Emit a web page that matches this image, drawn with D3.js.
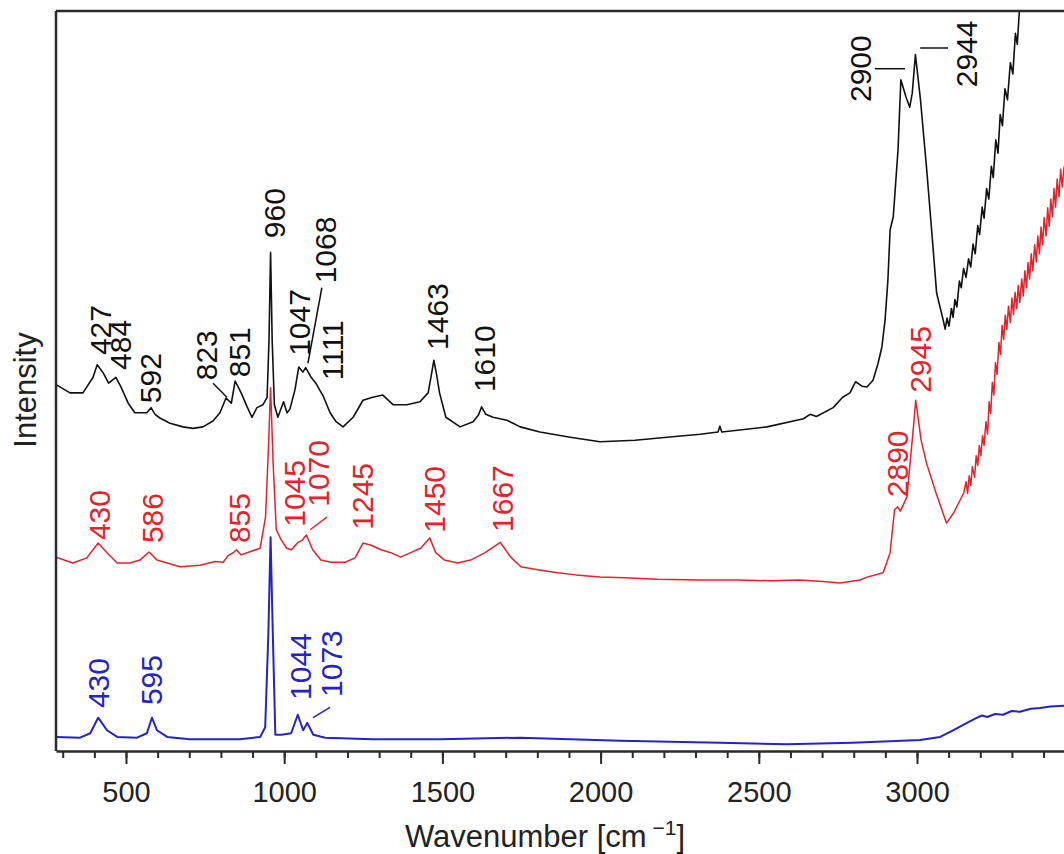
<!DOCTYPE html>
<html>
<head>
<meta charset="utf-8">
<script src="https://cdn.jsdelivr.net/npm/d3@7/dist/d3.min.js"></script>
<style>
  body { margin: 0; background: #fff; }
  svg { display: block; font-family: "Liberation Sans", Arial, sans-serif; }
</style>
</head>
<body>
<div id="chart"></div>
<script>
const blackWn = [279, 291, 323, 364, 396, 409, 428, 445, 468, 484, 507, 528, 551, 566, 579, 592, 607, 639, 680, 712,
  743, 775, 797, 816, 833, 845, 864, 883, 898, 914, 933, 946, 952, 957, 962, 969, 980, 998, 1009, 1018,
  1034, 1046, 1059, 1068, 1085, 1100, 1112, 1123, 1145, 1164, 1186, 1218, 1249, 1280, 1312, 1344, 1388, 1429, 1455, 1465,
  1473, 1482, 1491, 1511, 1556, 1597, 1614, 1624, 1637, 1660, 1704, 1746, 1808, 1904, 1998, 2109, 2210, 2315, 2371, 2377,
  2383, 2526, 2641, 2662, 2682, 2735, 2765, 2788, 2806, 2826, 2842, 2861, 2877, 2889, 2899, 2908, 2915, 2925, 2940, 2949,
  2965, 2977, 2985, 2995, 3011, 3030, 3047, 3062, 3083, 3089, 3095, 3101, 3109, 3114, 3120, 3126, 3134, 3140, 3147, 3155,
  3163, 3170, 3177, 3184, 3192, 3198, 3206, 3212, 3220, 3227, 3235, 3241, 3249, 3256, 3263, 3270, 3278, 3286, 3295, 3303,
  3311, 3317, 3325, 3332];
const blackInt = [49.5, 49.2, 48.4, 48.4, 50.5, 52.2, 51.1, 49.7, 50.5, 49.2, 47.0, 45.7, 45.7, 45.7, 46.4, 45.5, 45.0, 44.3, 43.8, 43.6,
  43.8, 44.6, 45.7, 47.7, 47.0, 50.0, 48.4, 46.5, 45.1, 46.4, 46.8, 47.8, 55.5, 67.4, 55.5, 46.8, 45.1, 47.2, 45.7, 46.2,
  48.8, 51.9, 51.2, 51.8, 50.5, 49.7, 48.8, 48.0, 45.7, 44.5, 43.8, 45.1, 47.4, 47.8, 48.1, 46.8, 46.8, 47.2, 48.4, 50.8,
  52.8, 50.8, 48.4, 45.1, 43.8, 44.5, 45.4, 46.5, 45.5, 45.1, 44.7, 43.8, 43.1, 42.4, 41.8, 42.0, 42.4, 42.8, 43.1, 43.9,
  43.1, 43.8, 44.9, 45.5, 45.2, 46.4, 47.8, 48.4, 49.9, 49.3, 49.2, 50.1, 52.4, 54.6, 58.2, 63.6, 70.4, 72.2, 81.2, 90.7,
  88.4, 87.0, 88.9, 94.1, 88.0, 78.9, 70.0, 61.9, 58.2, 57.0, 58.5, 57.4, 59.8, 58.6, 61.0, 60.0, 63.5, 62.6, 65.2, 64.0,
  66.5, 65.4, 68.5, 67.2, 71.0, 69.8, 73.5, 72.0, 76.0, 74.6, 79.0, 77.5, 82.6, 80.8, 86.0, 84.5, 89.5, 88.0, 93.0, 91.5,
  97.0, 95.5, 101.0, 103.0];

const redWn = [279, 332, 376, 412, 440, 472, 513, 544, 573, 598, 630, 671, 734, 782, 807, 823, 839, 849, 864, 883,
  924, 941, 950, 957, 965, 975, 991, 1008, 1023, 1044, 1057, 1070, 1090, 1116, 1147, 1193, 1224, 1249, 1275, 1306,
  1337, 1368, 1400, 1431, 1460, 1479, 1507, 1548, 1589, 1635, 1683, 1716, 1748, 1801, 1865, 1922, 1998, 2076, 2179, 2315,
  2436, 2539, 2630, 2703, 2756, 2820, 2842, 2893, 2915, 2929, 2939, 2947, 2968, 2988, 2996, 3013, 3030, 3060, 3093, 3116,
  3148, 3155, 3160, 3165, 3170, 3175, 3182, 3187, 3192, 3197, 3202, 3207, 3212, 3218, 3223, 3228, 3233, 3238, 3243, 3248,
  3253, 3259, 3264, 3269, 3274, 3279, 3284, 3289, 3295, 3300, 3305, 3310, 3315, 3320, 3325, 3331, 3336, 3341, 3346, 3351,
  3356, 3361, 3366, 3372, 3377, 3382, 3387, 3392, 3397, 3402, 3408, 3413, 3418, 3423, 3428, 3433, 3438, 3443, 3449, 3454,
  3459, 3465];
const redInt = [26.2, 25.4, 26.1, 28.1, 26.8, 25.4, 25.4, 25.8, 26.9, 25.8, 25.4, 24.9, 25.1, 25.6, 25.5, 26.4, 26.8, 27.2, 26.5, 26.8,
  27.4, 31.6, 40.7, 49.1, 38.9, 29.9, 28.5, 27.4, 27.2, 28.2, 28.5, 29.2, 27.2, 25.8, 25.5, 25.5, 26.1, 28.1, 27.8, 27.2,
  26.8, 26.2, 26.8, 27.4, 28.8, 26.8, 25.8, 25.4, 25.8, 26.8, 28.2, 26.2, 24.9, 24.5, 24.1, 23.8, 23.5, 23.4, 23.2, 23.1,
  23.1, 23.0, 23.1, 22.9, 22.7, 23.1, 23.5, 24.1, 26.8, 32.6, 33.0, 32.4, 34.3, 43.4, 47.4, 42.0, 38.9, 34.9, 30.8, 32.2,
  34.9, 36.4, 34.8, 37.2, 35.9, 38.4, 37.0, 39.9, 38.6, 41.3, 39.9, 42.6, 41.3, 44.5, 42.8, 47.2, 45.6, 49.8, 48.1, 52.5,
  50.9, 55.2, 53.6, 57.5, 55.6, 58.9, 57.0, 60.1, 57.9, 61.2, 59.0, 62.0, 59.8, 62.9, 60.6, 63.8, 61.5, 64.9, 62.6, 66.0,
  63.8, 67.2, 64.9, 68.4, 66.1, 69.6, 67.2, 70.8, 68.4, 72.1, 69.6, 73.4, 70.9, 74.6, 72.2, 76.0, 73.5, 77.3, 74.9, 78.6,
  76.2, 79.0];

const blueWn = [279, 355, 387, 412, 440, 472, 535, 566, 582, 598, 630, 702, 860, 924, 940, 950, 957, 964, 972, 991,
  1022, 1043, 1060, 1073, 1092, 1130, 1280, 1493, 1746, 2062, 2377, 2589, 2797, 3010, 3073, 3114, 3158, 3190, 3206, 3222,
  3247, 3272, 3299, 3325, 3360, 3389, 3422, 3465];
const blueInt = [1.9, 1.8, 2.4, 4.5, 2.8, 1.9, 1.8, 2.4, 4.5, 2.8, 1.9, 1.6, 1.6, 1.9, 3.2, 15.9, 28.9, 15.9, 2.2, 2.2,
  2.4, 4.9, 2.8, 3.8, 2.2, 1.8, 1.6, 1.6, 1.8, 1.4, 1.1, 0.9, 1.1, 1.5, 1.9, 2.8, 3.8, 4.5, 4.8, 4.6,
  5.0, 4.9, 5.4, 5.3, 5.7, 5.8, 6.0, 6.1];

// ---- peak annotations: label text, anchor (wavenumber, intensity) at the label's lower end ----
const blackPeakText = ["427", "484", "592", "823", "851", "960", "1047", "1068", "1111", "1463", "1610", "2900", "2944"];
const blackPeakWn   = [421, 484, 576, 756, 860, 968, 1047, 1132, 1154, 1483, 1632, 2820, 3155];
const blackPeakInt  = [53.5, 51.5, 47.0, 50.1, 50.5, 69.3, 53.4, 63.2, 50.1, 54.2, 48.5, 87.7, 89.7];

const redPeakText = ["430", "586", "855", "1045", "1070", "1245", "1450", "1667", "2890", "2945"];
const redPeakWn   = [417, 585, 860, 1034, 1107, 1249, 1476, 1691, 2937, 3010];
const redPeakInt  = [28.5, 28.1, 28.1, 30.3, 33.0, 29.9, 29.5, 29.6, 34.3, 48.4];

const bluePeakText = ["430", "595", "1044", "1073"];
const bluePeakWn   = [414, 582, 1050, 1151];
const bluePeakInt  = [5.8, 6.2, 6.9, 7.3];

// leader lines [wn1, int1, wn2, int2]
const blackLeaders = [[775, 49.7, 819, 47.8], [1119, 62.6, 1075, 52.4], [2867, 92.2, 2962, 92.2], [3010, 95.0, 3098, 95.0]];
const redLeaders   = [[1135, 31.6, 1082, 29.9]];
const blueLeaders  = [[1145, 5.9, 1091, 4.5]];

const majorTicks = [500, 1000, 1500, 2000, 2500, 3000];
const minorTicks = d3.range(300, 3401, 100);

// ---- layout ----
const W = 1064, H = 854;
const plot = { left: 56, right: 1064, top: 11, bottom: 751 };

const xScale = d3.scaleLinear().domain([278.8, 3464.6]).range([plot.left, plot.right]);
const yScale = d3.scaleLinear().domain([0, 100]).range([plot.bottom, plot.top]);

const svg = d3.select("#chart").append("svg")
    .attr("width", W)
    .attr("height", H);

svg.append("rect").attr("width", W).attr("height", H).attr("fill", "#fff");

svg.append("clipPath").attr("id", "plot-clip")
  .append("rect")
    .attr("x", plot.left)
    .attr("y", plot.top)
    .attr("width", plot.right - plot.left)
    .attr("height", plot.bottom - plot.top);

const series = [
    { wn: blackWn, it: blackInt, color: "#111", width: 1.6,
      text: blackPeakText, pw: blackPeakWn, pi: blackPeakInt, leaders: blackLeaders },
    { wn: redWn, it: redInt, color: "#e8202a", width: 1.5,
      text: redPeakText, pw: redPeakWn, pi: redPeakInt, leaders: redLeaders },
    { wn: blueWn, it: blueInt, color: "#2323c8", width: 2,
      text: bluePeakText, pw: bluePeakWn, pi: bluePeakInt, leaders: blueLeaders }
];

const line = d3.line()
    .x(d => xScale(d[0]))
    .y(d => yScale(d[1]));

const lines = svg.append("g").attr("clip-path", "url(#plot-clip)");

series.forEach(s => {
    lines.append("path")
        .datum(s.wn.map((w, i) => [w, s.it[i]]))
        .attr("fill", "none")
        .attr("stroke", s.color)
        .attr("stroke-width", s.width)
        .attr("stroke-linejoin", "round")
        .attr("d", line);
});

// peak labels, rotated to read upward
series.forEach(s => {
    const g = svg.append("g").attr("fill", s.color);
    g.selectAll("text")
        .data(s.text)
        .join("text")
        .attr("transform", (t, i) => `translate(${xScale(s.pw[i])},${yScale(s.pi[i])}) rotate(-90)`)
        .attr("dy", "0.35em")
        .attr("font-size", 30)
        .text(t => t);

    g.selectAll("line")
        .data(s.leaders)
        .join("line")
        .attr("x1", d => xScale(d[0]))
        .attr("y1", d => yScale(d[1]))
        .attr("x2", d => xScale(d[2]))
        .attr("y2", d => yScale(d[3]))
        .attr("stroke", s.color)
        .attr("stroke-width", 1.5);
});

// ---- axes ----
const axisColor = "#2a2a2a";

svg.append("g")
    .attr("transform", `translate(0,${plot.bottom})`)
    .call(d3.axisBottom(xScale).tickValues(minorTicks).tickSize(7).tickSizeOuter(0).tickFormat(""))
    .call(g => g.select(".domain").remove())
    .call(g => g.selectAll("line").attr("stroke", axisColor).attr("stroke-width", 2));

const xAxis = svg.append("g")
    .attr("transform", `translate(0,${plot.bottom})`)
    .call(d3.axisBottom(xScale).tickValues(majorTicks).tickFormat(d3.format("d"))
        .tickSize(13).tickSizeOuter(0).tickPadding(17));

xAxis.select(".domain").attr("stroke", axisColor).attr("stroke-width", 2.5);
xAxis.selectAll(".tick line").attr("stroke", axisColor).attr("stroke-width", 2);
xAxis.selectAll(".tick text")
    .attr("font-size", 29)
    .attr("font-family", "Liberation Sans, Arial, sans-serif")
    .attr("fill", "#222");

// left spine and top frame line
svg.append("line")
    .attr("x1", plot.left).attr("x2", plot.left)
    .attr("y1", plot.top).attr("y2", plot.bottom)
    .attr("stroke", axisColor).attr("stroke-width", 2.5);

svg.append("line")
    .attr("x1", plot.left).attr("x2", plot.right)
    .attr("y1", plot.top).attr("y2", plot.top)
    .attr("stroke", axisColor).attr("stroke-width", 2.5);

// axis titles
const xTitle = svg.append("text")
    .attr("x", 545)
    .attr("y", 847)
    .attr("text-anchor", "middle")
    .attr("font-size", 31)
    .attr("fill", "#222");
xTitle.append("tspan").text("Wavenumber  [cm");
xTitle.append("tspan").attr("font-size", 21).attr("dy", -12).text(" \u22121");
xTitle.append("tspan").attr("dy", 12).text("]");

svg.append("text")
    .attr("transform", "translate(36,390) rotate(-90)")
    .attr("text-anchor", "middle")
    .attr("font-size", 31)
    .attr("fill", "#222")
    .text("Intensity");
</script>
</body>
</html>
